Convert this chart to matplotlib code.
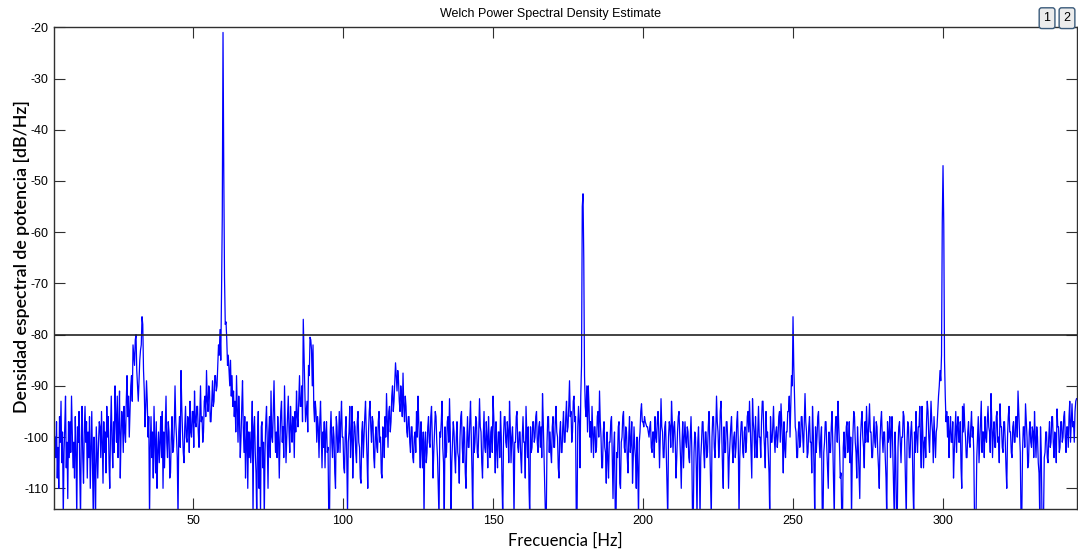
import numpy as np
import matplotlib
matplotlib.use('Agg')
import matplotlib.pyplot as plt

plt.rcParams['axes.unicode_minus'] = False

# PSD estimate (dB/Hz), 0.25 Hz steps starting at 4 Hz
# one row = 5 Hz
f_start = 4.0
f_step = 0.25
psd_db = [
    -100, -104, -97, -108, -102, -110, -96, -101, -93, -105, -99, -116, -103, -98, -92, -106, -101, -112, -97, -104,      # 4
    -97, -103, -92, -99, -106, -101, -108, -96, -103, -116, -98, -101, -95, -107, -116, -100, -94, -104, -109, -99,       # 9
    -94, -101, -97, -108, -99, -104, -96, -110, -102, -95, -105, -116, -100, -106, -117, -98, -103, -108, -101, -97,      # 14
    -98, -104, -95, -101, -109, -97, -103, -99, -107, -94, -100, -96, -105, -110, -99, -92, -101, -106, -97, -103,        # 19
    -90, -96, -101, -92, -104, -98, -91, -108, -100, -95, -97, -103, -94, -99, -101, -93, -88, -96, -92, -100,            # 24
    -95, -90, -88, -93, -82, -84, -86, -81, -80, -87, -90, -93, -89, -85, -83, -82, -76.5, -78, -87, -91,                 # 29
    -98, -94, -89, -93, -100, -96, -116, -102, -96, -104, -99, -108, -94, -101, -107, -97, -110, -103, -99, -105,         # 34
    -101, -96, -104, -95, -110, -99, -106, -98, -92, -101, -104, -97, -99, -108, -107, -100, -96, -103, -102, -98,        # 39
    -90, -97, -100, -104, -116, -99, -96, -102, -87, -94, -99, -103, -105, -98, -94, -100, -101, -96, -97, -103,          # 44
    -93, -99, -100, -95, -95, -102, -91, -97, -98, -94, -94, -99, -102, -96, -90, -97, -96, -101, -99, -93,               # 49
    -92, -96, -87, -93, -95, -90, -91, -97, -97, -93, -89, -94, -93, -88, -88, -91, -90, -86, -82, -84,                   # 54
    -79, -85, -72, -57, -21, -48, -69, -78, -77.5, -81, -86, -84, -87, -90, -85, -92, -88, -94, -91, -96,                 # 59
    -93, -99, -88, -95, -101, -92, -97, -104, -100, -94, -89, -98, -103, -96, -108, -101, -97, -110, -99, -104,           # 64
    -99, -105, -101, -93, -116, -98, -96, -103, -107, -116, -100, -95, -110, -102, -115, -98, -97, -106, -101, -116,      # 69
    -103, -97, -94, -101, -110, -99, -96, -104, -91, -100, -101, -95, -89, -97, -103, -99, -104, -96, -100, -108,         # 74
    -100, -95, -93, -101, -98, -104, -90, -97, -105, -100, -96, -92, -99, -103, -94, -98, -101, -96, -97, -104,           # 79
    -95, -99, -91, -96, -98, -93, -88, -94, -94, -90, -97, -77, -84, -90, -97, -95, -93, -99, -86, -88,                   # 84
    -80.5, -81, -83, -90, -82, -94, -97, -93, -95, -101, -96, -98, -104, -97, -93, -100, -106, -99, -102, -97,            # 89
    -106, -99, -97, -103, -102, -116, -116, -99, -95, -101, -104, -98, -100, -107, -110, -96, -98, -103, -101, -95,       # 94
    -103, -97, -93, -100, -100, -106, -107, -99, -96, -104, -115, -101, -99, -94, -104, -100, -94, -108, -101, -97,       # 99
    -98, -103, -105, -97, -95, -101, -102, -108, -109, -99, -97, -104, -100, -96, -93, -99, -104, -110, -99, -95,         # 104
    -93, -98, -101, -96, -97, -104, -106, -100, -98, -102, -103, -97, -95, -101, -100, -107, -108, -98, -99, -104,        # 109
    -96, -100, -91.5, -97, -102, -95, -94, -99, -97, -92, -90, -95, -93, -89, -85.5, -88, -91, -87, -89, -93,             # 114
    -95, -90, -92, -96, -87.5, -94, -97, -92, -94, -99, -100, -96, -96, -101, -103, -98, -98, -104, -105, -100,           # 119
    -99, -103, -95, -100, -92, -97, -101, -106, -97, -102, -106, -99, -116, -101, -99, -105, -103, -98, -96, -101,        # 124
    -102, -96, -94, -100, -108, -103, -99, -95, -96, -101, -104, -110, -116, -99, -100, -97, -93, -102, -105, -116,       # 129
    -98, -104, -103, -97, -96, -101, -92.5, -99, -116, -105, -101, -97, -99, -104, -107, -100, -97, -103, -104, -109,     # 134
    -100, -96, -95, -102, -105, -98, -99, -107, -110, -101, -96, -102, -102, -97, -93, -100, -107, -116, -98, -103,       # 139
    -101, -96, -97, -103, -104, -99, -92.5, -98, -99, -105, -108, -100, -95, -102, -103, -97, -100, -106, -96, -101,      # 144
    -104, -99, -98, -103, -92, -96, -101, -107, -97, -102, -106, -99, -99, -104, -95, -100, -109, -116, -100, -96,        # 149
    -96, -101, -102, -97, -99, -105, -93, -98, -105, -100, -98, -103, -116, -101, -101, -96, -95, -102, -103, -99,        # 154
    -99, -104, -107, -100, -96, -101, -101, -108, -94, -99, -104, -98, -110, -116, -98, -103, -102, -97, -97, -101,       # 159
    -100, -96, -95, -101, -103, -98, -97, -102, -98, -104, -91.5, -97, -104, -110, -116, -116, -101, -96, -96, -103,      # 164
    -99, -103, -105, -98, -96, -102, -102, -97, -94, -99, -100, -106, -108, -99, -97, -103, -103, -98, -95, -101,         # 169
    -101, -96, -93, -99, -98, -94, -89, -96, -95, -101, -99, -93, -92, -97, -96, -116, -116, -98, -94, -97,               # 174
    -106, -92, -86, -55, -52.5, -65, -88, -94, -96, -90, -99, -90, -94, -100, -97, -103, -94, -99, -104, -98,             # 179
    -98, -103, -102, -96, -95, -100, -91, -97, -100, -106, -106, -99, -97, -102, -103, -109, -99, -104, -108, -101,       # 184
    -101, -97, -96, -104, -112, -102, -99, -116, -116, -103, -104, -98, -97, -109, -110, -101, -100, -96, -95, -102,      # 189
    -103, -98, -99, -104, -107, -100, -96, -103, -101, -97, -109, -104, -98, -102, -104, -110, -100, -106, -116, -101,    # 194
    -99, -95, -93.5, -97, -97, -98, -96, -97, -97.5, -98, -98, -99, -100, -98, -97, -102, -103, -99, -99, -104,           # 199
    -96, -100, -101, -97, -95, -99, -106, -100, -92.5, -98, -99, -104, -104, -98, -97, -103, -110, -116, -100, -97,       # 204
    -98, -102, -93, -97, -103, -98, -97, -101, -108, -104, -99, -96, -95, -100, -104, -110, -101, -97, -106, -100,        # 209
    -97, -101, -102, -98, -99, -104, -105, -100, -96, -102, -116, -116, -103, -99, -100, -106, -116, -101, -98, -104,     # 214
    -116, -104, -101, -97, -97, -103, -106, -99, -99, -104, -103, -98, -95, -101, -108, -116, -100, -96, -96, -102,       # 219
    -104, -99, -92, -97, -99, -104, -101, -95, -93, -100, -106, -110, -98, -103, -103, -97, -97, -101, -110, -104,        # 224
    -101, -98, -96, -102, -105, -100, -99, -104, -102, -97, -95, -101, -116, -104, -100, -97, -97, -103, -104, -99,       # 229
    -98, -103, -101, -96, -95, -99, -93, -98, -103, -108, -92.5, -97, -99, -104, -96, -101, -104, -99, -94, -100,         # 234
    -100, -104, -97, -93, -93, -99, -102, -106, -95, -100, -99, -103, -107, -116, -96, -101, -101, -98, -94, -100,        # 239
    -103, -99, -98, -102, -100, -96, -95, -101, -93.5, -97, -101, -107, -97, -102, -104, -99, -99, -95, -95, -92,         # 244
    -100, -94, -88, -90, -76.5, -86, -92, -98, -99, -104, -104, -99, -97, -102, -101, -96, -96, -100, -103, -97,          # 249
    -91.5, -97, -99, -104, -103, -98, -96, -101, -101, -107, -94, -99, -106, -116, -98, -103, -100, -96, -95, -101,       # 254
    -104, -100, -98, -116, -116, -103, -101, -97, -97, -102, -106, -110, -99, -103, -103, -98, -95, -101, -108, -116,     # 259
    -100, -96, -96, -101, -93, -98, -102, -108, -107, -116, -116, -102, -99, -104, -104, -98, -97, -103, -101, -97,       # 264
    -105, -100, -116, -104, -99, -95, -96, -101, -103, -108, -98, -102, -107, -112, -100, -97, -95, -100, -102, -106,     # 269
    -97, -101, -94, -99, -101, -97, -93.5, -99, -99, -104, -104, -100, -96, -101, -102, -97, -98, -103, -106, -110,       # 274
    -101, -97, -95, -100, -103, -99, -99, -104, -108, -116, -97, -101, -100, -96, -104, -99, -96, -103, -110, -116,       # 279
    -99, -104, -116, -116, -102, -98, -97, -101, -105, -100, -100, -95, -96, -102, -109, -116, -101, -97, -98, -104,      # 284
    -104, -99, -97, -101, -110, -116, -99, -103, -95, -100, -103, -98, -98, -94, -101, -106, -94, -99, -106, -101,        # 289
    -100, -104, -97, -93, -95, -100, -103, -98, -93, -97, -99, -105, -96, -100, -104, -99, -98, -95, -92, -90,            # 294
    -87, -89, -84, -58, -47, -58.5, -85, -92, -97, -95, -100, -96, -104, -99, -96, -101, -101, -97, -108, -103,           # 299
    -99, -95, -103, -98, -96, -101, -101, -97, -106, -110, -94, -99, -93.5, -98, -100, -104, -104, -99, -97, -101,        # 304
    -102, -98, -95, -100, -98, -103, -116, -116, -116, -104, -100, -96, -105, -101, -97, -93, -103, -99, -99, -104,       # 309
    -96, -100, -101, -97, -94, -98, -99, -103, -91.5, -97, -104, -99, -97, -102, -102, -96, -95, -101, -100, -105,        # 314
    -93.5, -98, -98, -102, -103, -97, -97, -101, -106, -110, -100, -96, -94, -99, -99, -103, -104, -98, -97, -101,        # 319
    -101, -96, -96, -100, -91, -95, -99, -103, -116, -116, -103, -98, -98, -102, -93.5, -97, -100, -106, -105, -99,       # 324
    -97, -101, -102, -98, -99, -104, -95, -100, -104, -98, -100, -105, -107, -116, -98, -103, -116, -116, -116, -104,     # 329
    -103, -99, -99, -104, -105, -100, -97, -102, -101, -96, -96, -101, -104, -99, -100, -105, -94.5, -98, -98, -103,      # 334
    -102, -97, -97, -101, -100, -96, -95, -100, -103, -98, -98, -102, -96, -93, -101, -97, -93.5, -98, -97, -101,         # 339
    -95, -93, -92.5,                                                                                                       # 344
]
threshold_db = -80
x_ticks = [50, 100, 150, 200, 250, 300]
y_ticks = [-110, -100, -90, -80, -70, -60, -50, -40, -30, -20]

freq = f_start + f_step * np.arange(len(psd_db))

fig = plt.figure(figsize=(10.78, 5.51), dpi=100)
ax = fig.add_axes([0.0504, 0.0762, 0.9487, 0.8742])

ax.plot(freq, psd_db, color='#0000ff', linewidth=0.9)
ax.axhline(threshold_db, color='#222222', linewidth=1.2)

ax.set_xlim(3.77, 344.67)
ax.set_ylim(-114.04, -20)
ax.set_xticks(x_ticks)
ax.set_yticks(y_ticks)

for s in ax.spines.values():
    s.set_color('#303030')
    s.set_linewidth(1.0)

ax.tick_params(direction='in', length=8, width=0.8, top=True, right=True,
               labelsize=9, pad=4, colors='#303030', labelcolor='black')
for lab in ax.get_xticklabels() + ax.get_yticklabels():
    lab.set_family('Liberation Sans')

ax.set_xlabel('Frecuencia [Hz]', fontsize=12, family='Lato', labelpad=4)
ax.set_ylabel('Densidad espectral de potencia [dB/Hz]', fontsize=12.8,
              family='Lato', fontweight='semibold')
ax.yaxis.set_label_coords(-0.024, 0.525)

fig.text(0.511, 0.975, 'Welch Power Spectral Density Estimate', ha='center',
         va='center', fontsize=9, family='Liberation Sans')

box = dict(boxstyle='round,pad=0.35,rounding_size=0.2', facecolor='#ececec',
           edgecolor='#3a5a7a', linewidth=1.0)
fig.text(0.9713, 0.967, '1', ha='center', va='center', fontsize=9,
         family='Liberation Sans', bbox=box)
fig.text(0.9898, 0.967, '2', ha='center', va='center', fontsize=9,
         family='Liberation Sans', bbox=box)

fig.savefig('out.png', dpi=100)
